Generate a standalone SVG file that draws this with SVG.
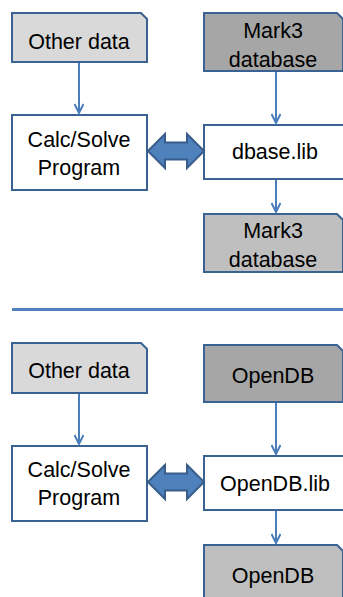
<svg xmlns="http://www.w3.org/2000/svg" width="343" height="597" viewBox="0 0 343 597">
<defs>
<style>
.box{stroke:#3a6393;stroke-width:2;stroke-linejoin:miter}
.white{fill:#ffffff}
.light{fill:#d9d9d9}
.dark{fill:#a6a6a6}
.mid{fill:#bfbfbf}
.t{font-family:"Liberation Sans",Arial,sans-serif;font-size:21.5px;fill:#000;text-anchor:middle}
.conn{stroke:#4a7ebb;stroke-width:2;fill:none}
.big{fill:#4f81bd;stroke:#385d8a;stroke-width:2;stroke-linejoin:miter}
</style>
<marker id="ah" viewBox="0 0 12 10" refX="10" refY="5" markerWidth="12" markerHeight="10" markerUnits="userSpaceOnUse" orient="auto">
<path d="M1,0.5 L10,5 L1,9.5" fill="none" stroke="#4a7ebb" stroke-width="2"/>
</marker>
</defs>

<!-- top section -->
<g id="other1">
<path class="box light" d="M12,13 H141 L147,19 V62 H12 Z"/>
<text class="t" x="79" y="49">Other data</text>
</g>
<g id="mark3src">
<path class="box dark" d="M204,13 H337 L343,19 V71 H204 Z"/>
<text class="t" x="273" y="38">Mark3</text>
<text class="t" x="273" y="67">database</text>
</g>
<g id="calc1">
<rect class="box white" x="12" y="115" width="135" height="75"/>
<text class="t" x="79" y="147">Calc/Solve</text>
<text class="t" x="79" y="175">Program</text>
</g>
<g id="dbaselib">
<rect class="box white" x="204" y="125" width="140" height="54"/>
<text class="t" x="275" y="159">dbase.lib</text>
</g>
<g id="mark3dst">
<path class="box mid" d="M204,214 H337 L343,220 V272 H204 Z"/>
<text class="t" x="273" y="238">Mark3</text>
<text class="t" x="273" y="267">database</text>
</g>

<!-- separator -->
<line x1="12" y1="309.5" x2="343" y2="309.5" stroke="#4f81bd" stroke-width="3"/>

<!-- bottom section -->
<g id="other2">
<path class="box light" d="M12,343 H141 L147,349 V393 H12 Z"/>
<text class="t" x="79" y="378">Other data</text>
</g>
<g id="opendbsrc">
<path class="box dark" d="M204,345 H337 L343,351 V402 H204 Z"/>
<text class="t" x="273" y="383">OpenDB</text>
</g>
<g id="calc2">
<rect class="box white" x="12" y="446" width="135" height="75"/>
<text class="t" x="79" y="477">Calc/Solve</text>
<text class="t" x="79" y="505">Program</text>
</g>
<g id="opendblib">
<rect class="box white" x="204" y="456" width="140" height="54"/>
<text class="t" x="275" y="491">OpenDB.lib</text>
</g>
<g id="opendbdst">
<path class="box mid" d="M204,545 H337 L343,551 V600 H204 Z"/>
<text class="t" x="273" y="583">OpenDB</text>
</g>

<!-- connectors -->
<g id="connectors">
<line class="conn" x1="79" y1="63" x2="79" y2="113" marker-end="url(#ah)"/>
<line class="conn" x1="276" y1="72" x2="276" y2="123" marker-end="url(#ah)"/>
<line class="conn" x1="276" y1="180" x2="276" y2="212" marker-end="url(#ah)"/>
<path class="big" d="M148,151 L165,134 V142.5 H187 V134 L204,151 L187,168 V159.5 H165 V168 Z"/>

<line class="conn" x1="79" y1="394" x2="79" y2="444" marker-end="url(#ah)"/>
<line class="conn" x1="276" y1="403" x2="276" y2="454" marker-end="url(#ah)"/>
<line class="conn" x1="276" y1="511" x2="276" y2="543" marker-end="url(#ah)"/>
<path class="big" d="M148,482 L165,465 V473.5 H187 V465 L204,482 L187,499 V490.5 H165 V499 Z"/>
</g>
</svg>
